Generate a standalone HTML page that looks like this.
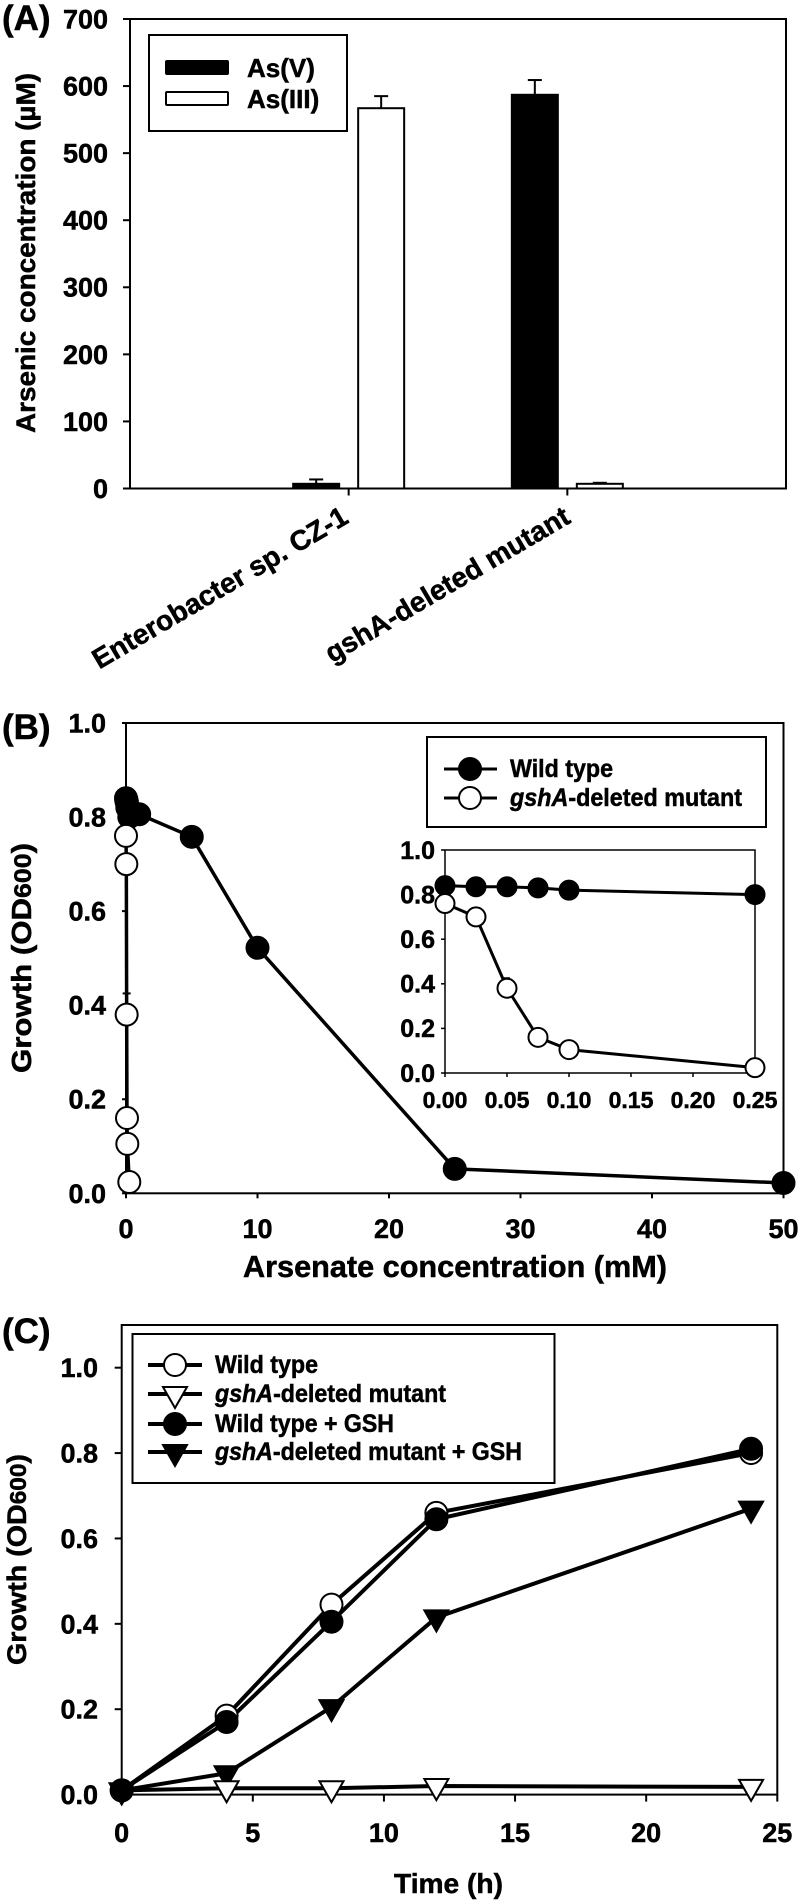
<!DOCTYPE html>
<html lang="en">
<head>
<meta charset="utf-8">
<title>Arsenic concentration and growth charts</title>
<style>
html,body{margin:0;padding:0;background:#fff;}
svg{display:block;}
text{font-family:"Liberation Sans",sans-serif;font-weight:bold;fill:#000;stroke:#000;stroke-width:0.5px;}
</style>
</head>
<body>
<svg id="fig" xmlns="http://www.w3.org/2000/svg" width="800" height="1904" viewBox="0 0 800 1904">
  <text x="2" y="30" font-size="35">(A)</text>
  <text transform="translate(35,433) rotate(-90)" font-size="27" textLength="360" lengthAdjust="spacingAndGlyphs">Arsenic concentration (µM)</text>
  <text transform="translate(350,522) rotate(-30.5)" font-size="28" text-anchor="end">Enterobacter sp. CZ-1</text>
  <text transform="translate(572,522) rotate(-30.5)" font-size="28" text-anchor="end">gshA-deleted mutant</text>
  <g id="a"></g>
  <rect x="149" y="35" width="198" height="96" fill="#fff" stroke="#000" stroke-width="2"/>
  <rect x="166" y="61" width="62" height="13" rx="1" fill="#000" stroke="#000" stroke-width="2"/>
  <rect x="166" y="92" width="62" height="13" rx="1" fill="#fff" stroke="#000" stroke-width="2"/>
  <text x="247" y="77" font-size="26">As(V)</text>
  <text x="247" y="108" font-size="26">As(III)</text>

  <text x="2" y="739" font-size="35">(B)</text>
  <text transform="translate(31,1073) rotate(-90)" font-size="28" textLength="230" lengthAdjust="spacingAndGlyphs">Growth (OD<tspan font-size="24">600</tspan>)</text>
  <text x="243" y="1277" font-size="31" textLength="424" lengthAdjust="spacingAndGlyphs">Arsenate concentration (mM)</text>
  <g id="b"></g>
  <rect x="427" y="737" width="339" height="90" fill="#fff" stroke="#000" stroke-width="2"/>
  <line x1="444" y1="769" x2="497" y2="769" stroke="#000" stroke-width="3"/>
  <circle cx="470" cy="769" r="11" fill="#000" stroke="#000" stroke-width="2"/>
  <line x1="444" y1="798" x2="497" y2="798" stroke="#000" stroke-width="3"/>
  <circle cx="470" cy="798" r="11" fill="#fff" stroke="#000" stroke-width="2"/>
  <text x="510" y="777" font-size="25" textLength="103" lengthAdjust="spacingAndGlyphs">Wild type</text>
  <text x="510" y="806" font-size="25" textLength="232" lengthAdjust="spacingAndGlyphs"><tspan font-style="italic">gshA</tspan>-deleted mutant</text>
  <g id="inset"></g>

  <text x="2" y="1343" font-size="35">(C)</text>
  <text transform="translate(26,1665) rotate(-90)" font-size="27" textLength="211" lengthAdjust="spacingAndGlyphs">Growth (OD<tspan font-size="23">600</tspan>)</text>
  <text x="394" y="1893" font-size="28" textLength="109" lengthAdjust="spacingAndGlyphs">Time (h)</text>
  <g id="c"></g>
  <rect x="132.5" y="1334" width="422" height="149" fill="#fff" stroke="#000" stroke-width="2"/>
  <g id="c-legend"></g>
  <text x="215" y="1373" font-size="25" textLength="103" lengthAdjust="spacingAndGlyphs">Wild type</text>
  <text x="215" y="1402" font-size="25" textLength="231" lengthAdjust="spacingAndGlyphs"><tspan font-style="italic">gshA</tspan>-deleted mutant</text>
  <text x="215" y="1432" font-size="25" textLength="179" lengthAdjust="spacingAndGlyphs">Wild type + GSH</text>
  <text x="215" y="1460" font-size="25" textLength="307" lengthAdjust="spacingAndGlyphs"><tspan font-style="italic">gshA</tspan>-deleted mutant + GSH</text>
</svg>
<script>
// Panel A data
const aTicks = ['0','100','200','300','400','500','600','700'];
const aCategories = ['Enterobacter sp. CZ-1','gshA-deleted mutant'];
const aAsV = [7, 587];
const aAsVErr = [13.5, 609];
const aAsIII = [567, 7];
const aAsIIIErr = [585, 8.5];

// Panel B data
const bXTicks = [0,10,20,30,40,50];
const bYTicks = [0,0.2,0.4,0.6,0.8,1.0];
const bWildX = [0,0.025,0.05,0.075,0.1,0.25,1,5,10,25,50];
const bWildY = [0.84,0.835,0.835,0.83,0.82,0.80,0.806,0.758,0.522,0.052,0.022];
const bMutantX = [0,0.025,0.05,0.075,0.1,0.25];
const bMutantY = [0.76,0.70,0.38,0.16,0.105,0.024];
const bMutantErr = [0.01,0.01,0.045,0.01,0.01,0.005];

// Inset data
const insetXTicks = [0,0.05,0.10,0.15,0.20,0.25];
const insetYTicks = [0,0.2,0.4,0.6,0.8,1.0];
const insetWildX = [0,0.025,0.05,0.075,0.1,0.25];
const insetWildY = [0.84,0.835,0.835,0.83,0.82,0.80];
const insetMutantX = [0,0.025,0.05,0.075,0.1,0.25];
const insetMutantY = [0.76,0.70,0.38,0.16,0.105,0.024];
const insetMutantErr = [0.01,0.01,0.045,0.01,0.01,0.005];

// Panel C data
const cXTicks = [0,5,10,15,20,25];
const cYTicks = [0,0.2,0.4,0.6,0.8,1.0];
const cTime = [0,4,8,12,24];
const cWild = [0.01,0.185,0.445,0.66,0.80];
const cMutant = [0.01,0.015,0.015,0.02,0.018];
const cWildGsh = [0.01,0.17,0.405,0.645,0.81];
const cMutantGsh = [0.01,0.05,0.205,0.415,0.67];

const NS = 'http://www.w3.org/2000/svg';
function mk(tag, attrs, parent, txt){
  const el = document.createElementNS(NS, tag);
  for (const k in attrs) el.setAttribute(k, attrs[k]);
  if (txt !== undefined) el.textContent = txt;
  parent.appendChild(el);
  return el;
}
function scale(d0,d1,r0,r1){ return v => r0 + (v-d0)/(d1-d0)*(r1-r0); }

function frame(parent, L, T, R, B, sw){
  const el = mk('rect',{x:L,y:T,width:R-L,height:B-T,fill:'none',stroke:'#000','stroke-width':sw},parent);
  
  
}
function yTick(parent, x, y, len, label, right, size, sw){
  const t = mk('line',{x1:x-len,y1:y,x2:x,y2:y,stroke:'#000','stroke-width':sw},parent);
  
  
  const l = mk('text',{x:right,y:y+size*0.35,'font-size':size,'text-anchor':'end'},parent,label);
  
  
}
function xTick(parent, x, y, len, label, base, size, sw){
  const t = mk('line',{x1:x,y1:y,x2:x,y2:y+len,stroke:'#000','stroke-width':sw},parent);
  
  
  if (label === null) return;
  const l = mk('text',{x:x,y:base,'font-size':size,'text-anchor':'middle'},parent,label);
  
  
}
function polyline(parent, xs, ys, sx, sy, sw, name){
  const pts = xs.map((v,i)=>sx(v)+','+sy(ys[i])).join(' ');
  const el = mk('polyline',{points:pts,fill:'none',stroke:'#000','stroke-width':sw,'stroke-linejoin':'round'},parent);
  
  
}
function circle(parent, x, y, r, fill, name){
  const el = mk('circle',{cx:x,cy:y,r:r,fill:fill,stroke:'#000','stroke-width':2},parent);
  
  
}
function triangle(parent, x, y, fill, name){
  const p = (x-12)+','+(y-7)+' '+(x+12)+','+(y-7)+' '+x+','+(y+14);
  const el = mk('polygon',{points:p,fill:fill,stroke:'#000','stroke-width':2,'stroke-linejoin':'miter'},parent);
  
  
}
function errorBar(parent, x, y0, y1, cap){
  const v = mk('line',{x1:x,y1:y0,x2:x,y2:y1,stroke:'#000','stroke-width':2},parent);
  
  
  const c = mk('line',{x1:x-cap,y1:y1,x2:x+cap,y2:y1,stroke:'#000','stroke-width':2},parent);
  
  
}

// Panel A
(function(){
  const g = document.getElementById('a');
  const L=130,T=19,R=786,B=488.5;
  const sy = scale(0,700,B,T);
  const cx = i => L + (R-L)*(i+1)/(aCategories.length+1);
  const half = 32.5, w = 46;
  aCategories.forEach((c,i)=>{
    const x1 = cx(i)-half, x2 = cx(i)+half;
    errorBar(g,x1,sy(aAsV[i]),sy(aAsVErr[i]),7);
    const b1 = mk('rect',{x:x1-w/2,y:sy(aAsV[i]),width:w,height:B-sy(aAsV[i]),fill:'#000',stroke:'#000','stroke-width':2},g);
    
    
    errorBar(g,x2,sy(aAsIII[i]),sy(aAsIIIErr[i]),7);
    const b2 = mk('rect',{x:x2-w/2,y:sy(aAsIII[i]),width:w,height:B-sy(aAsIII[i]),fill:'#fff',stroke:'#000','stroke-width':2},g);
    
    
    xTick(g,cx(i),B,7,null,0,0,2);
  });
  frame(g,L,T,R,B,2);
  aTicks.forEach(t=>yTick(g,L,sy(+t),7,t,108,27,2));
})();

// Panel B
(function(){
  const g = document.getElementById('b');
  const L=126,T=723,R=783.5,B=1193.3;
  const sx = scale(0,50,L,R), sy = scale(0,1,B,T);
  frame(g,L,T,R,B,2);
  bYTicks.forEach(t=>yTick(g,L,sy(t),4,t.toFixed(1),106,27,2));
  bXTicks.forEach(t=>xTick(g,sx(t),B,5,String(t),1238,27,2));
  polyline(g,bMutantX,bMutantY,sx,sy,3.5,'series-mutant-line');
  polyline(g,bWildX,bWildY,sx,sy,3.5,'series-wild-type-line');
  bMutantX.forEach((x,i)=>{
    errorBar(g,sx(x),sy(bMutantY[i]-bMutantErr[i]),sy(bMutantY[i]+bMutantErr[i]),4);
  });
  bWildX.forEach((x,i)=>circle(g,sx(x),sy(bWildY[i]),11,'#000','point-wild-type'));
  bMutantX.forEach((x,i)=>circle(g,sx(x),sy(bMutantY[i]),11,'#fff','point-mutant'));
})();

// Inset
(function(){
  const g = document.getElementById('inset');
  const L=445,T=850,R=755,B=1073;
  const sx = scale(0,0.25,L,R), sy = scale(0,1,B,T);
  frame(g,L,T,R,B,1.5);
  insetYTicks.forEach(t=>yTick(g,L,sy(t),4,t.toFixed(1),435,25,1.5));
  insetXTicks.forEach(t=>xTick(g,sx(t),B,4,t.toFixed(2),1108,23,1.5));
  polyline(g,insetWildX,insetWildY,sx,sy,3,'inset-wild-type-line');
  polyline(g,insetMutantX,insetMutantY,sx,sy,3,'inset-mutant-line');
  insetMutantX.forEach((x,i)=>{
    errorBar(g,sx(x),sy(insetMutantY[i]-insetMutantErr[i]),sy(insetMutantY[i]+insetMutantErr[i]),3);
  });
  insetWildX.forEach((x,i)=>circle(g,sx(x),sy(insetWildY[i]),9.5,'#000','inset-point-wild-type'));
  insetMutantX.forEach((x,i)=>circle(g,sx(x),sy(insetMutantY[i]),9.5,'#fff','inset-point-mutant'));
})();

// Panel C
(function(){
  const g = document.getElementById('c');
  const L=121.7,T=1325,R=777.3,B=1794.6;
  const sx = scale(0,25,L,R), sy = scale(0,1.1,B,T);
  frame(g,L,T,R,B,2);
  cYTicks.forEach(t=>yTick(g,L,sy(t),7,t.toFixed(1),98,27,2));
  cXTicks.forEach(t=>xTick(g,sx(t),B,7,String(t),1842,27,2));
  polyline(g,cTime,cWild,sx,sy,4,'series-wild-type-line');
  polyline(g,cTime,cMutant,sx,sy,4,'series-mutant-line');
  polyline(g,cTime,cWildGsh,sx,sy,4,'series-wild-type-gsh-line');
  polyline(g,cTime,cMutantGsh,sx,sy,4,'series-mutant-gsh-line');
  cTime.forEach((x,i)=>circle(g,sx(x),sy(cWild[i]),11,'#fff','point-wild-type'));
  cTime.forEach((x,i)=>triangle(g,sx(x),sy(cMutantGsh[i]),'#000','point-mutant-gsh'));
  cTime.forEach((x,i)=>triangle(g,sx(x),sy(cMutant[i]),'#fff','point-mutant'));
  cTime.forEach((x,i)=>circle(g,sx(x),sy(cWildGsh[i]),11,'#000','point-wild-type-gsh'));

  const lg = document.getElementById('c-legend');
  const rows = [1365,1394,1424,1452];
  rows.forEach(y=>{
    const l = mk('line',{x1:148,y1:y,x2:202,y2:y,stroke:'#000','stroke-width':4},lg);
    
    
  });
  circle(lg,175,rows[0],11,'#fff','legend-marker-wild-type-c');
  triangle(lg,175,rows[1],'#fff','legend-marker-mutant-c');
  circle(lg,175,rows[2],11,'#000','legend-marker-wild-type-gsh');
  triangle(lg,175,rows[3],'#000','legend-marker-mutant-gsh');
})();
</script>
</body>
</html>
